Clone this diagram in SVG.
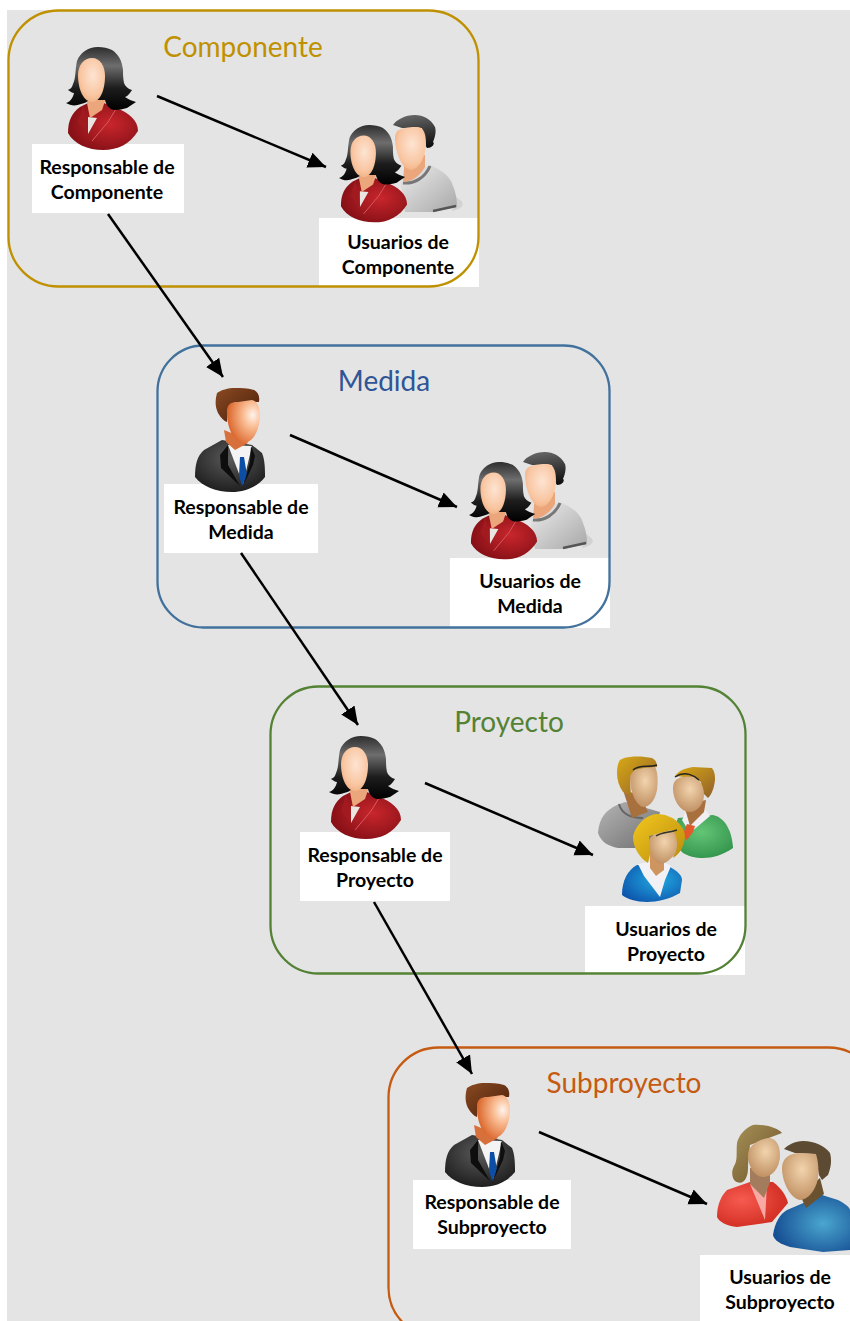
<svg xmlns="http://www.w3.org/2000/svg" xmlns:xlink="http://www.w3.org/1999/xlink" width="850" height="1321" viewBox="0 0 850 1321">
<style>
.box{fill:none;stroke-width:2.3}
.lab{fill:#fff}
.t{font-family:"Lato","Open Sans",sans-serif;font-weight:700;font-size:19.500px;fill:#000;text-anchor:middle;transform:translateY(1px)}
.h{font-family:"Lato","Open Sans",sans-serif;font-size:28px;text-anchor:middle;transform:translateY(1px)}
.c{fill:none;stroke:#000;stroke-width:2.5;marker-end:url(#arr)}
</style>
<defs>
<marker id="arr" markerUnits="userSpaceOnUse" markerWidth="22" markerHeight="20" refX="18" refY="9" orient="auto"><path d="M0,1L18,9L0,17Z" fill="#000"/></marker>
<radialGradient id="face" cx=".55" cy=".4" r=".7"><stop offset="0" stop-color="#fde4d2"/><stop offset=".65" stop-color="#f9c6a2"/><stop offset="1" stop-color="#eea878"/></radialGradient>
<radialGradient id="faceM" cx=".78" cy=".35" r=".75"><stop offset="0" stop-color="#fff3ec"/><stop offset=".4" stop-color="#f9ba90"/><stop offset="1" stop-color="#dc6a30"/></radialGradient>
<radialGradient id="faceT" cx=".55" cy=".35" r=".7"><stop offset="0" stop-color="#f2d4ae"/><stop offset="1" stop-color="#bd8c5e"/></radialGradient>
<linearGradient id="hairK" x1=".5" y1="0" x2=".5" y2="1"><stop offset="0" stop-color="#2e2e2e"/><stop offset=".3" stop-color="#6e6e6e"/><stop offset=".65" stop-color="#1d1d1d"/><stop offset="1" stop-color="#000"/></linearGradient>
<linearGradient id="hairD" x1=".4" y1="0" x2=".6" y2="1"><stop offset="0" stop-color="#666"/><stop offset="1" stop-color="#0f0f0f"/></linearGradient>
<radialGradient id="red" cx=".6" cy=".45" r=".7"><stop offset="0" stop-color="#c8262c"/><stop offset="1" stop-color="#7c0d13"/></radialGradient>
<radialGradient id="suit" cx=".5" cy=".35" r=".7"><stop offset="0" stop-color="#5a5a5a"/><stop offset="1" stop-color="#1b1b1b"/></radialGradient>
<linearGradient id="brown" x1="0" y1="0" x2="1" y2="1"><stop offset="0" stop-color="#8a4a22"/><stop offset="1" stop-color="#4a1e0a"/></linearGradient>
<linearGradient id="tee" x1="0" y1="0" x2="1" y2="1"><stop offset="0" stop-color="#ededed"/><stop offset="1" stop-color="#a8a8a8"/></linearGradient>
<linearGradient id="blond" x1="0" y1="0" x2="1" y2="1"><stop offset="0" stop-color="#d9a915"/><stop offset="1" stop-color="#8f5f2a"/></linearGradient>
<linearGradient id="gold" x1="0" y1="0" x2="1" y2="1"><stop offset="0" stop-color="#f2c81e"/><stop offset="1" stop-color="#b98a0c"/></linearGradient>
<linearGradient id="greyT" x1="0" y1="0" x2="1" y2="1"><stop offset="0" stop-color="#b5b5b5"/><stop offset="1" stop-color="#6f6f6f"/></linearGradient>
<radialGradient id="green" cx=".5" cy=".4" r=".7"><stop offset="0" stop-color="#63c576"/><stop offset="1" stop-color="#2e8f48"/></radialGradient>
<radialGradient id="blue" cx=".6" cy=".4" r=".7"><stop offset="0" stop-color="#22a9e0"/><stop offset="1" stop-color="#0d55ad"/></radialGradient>
<radialGradient id="blue2" cx=".65" cy=".5" r=".65"><stop offset="0" stop-color="#4aa6cf"/><stop offset="1" stop-color="#164f94"/></radialGradient>
<radialGradient id="coral" cx=".35" cy=".4" r=".7"><stop offset="0" stop-color="#f65a50"/><stop offset="1" stop-color="#cf2a1e"/></radialGradient>
<linearGradient id="olive" x1="0" y1="0" x2="1" y2="1"><stop offset="0" stop-color="#a89058"/><stop offset="1" stop-color="#6a5428"/></linearGradient>
<g id="woman">
<path d="M68,133C68,120 72,113 80,107L88,103L104,103L116,108C128,112 138,120 138,131C130,144 118,150 103,150C88,150 74,144 68,133Z" fill="url(#red)"/>
<path d="M88,117L97,118L88,134Z" fill="#e9e6e2"/>
<path d="M83,106L87,118L88,134L92,140L78,122Z" fill="#a01a20"/>
<path d="M116,109L108,122L92,141" fill="none" stroke="#d85a5e" stroke-width="1"/>
<path d="M86,98L106,98L102,110L90,118Z" fill="#eba77b"/>
<path d="M98,47C88,47 80,53 77,61C75,70 76,78 73,84C72,88 70,89 68,90C71,92 72,93 74,93C73,98 70,102 66,103C71,106 76,106 81,104C85,103 87,102 89,100L105,100C106,105 109,109 114,110C119,110 123,109 127,108C130,106 133,104 136,102C132,101 128,99 125,97C128,96 130,93 132,90C128,89 125,86 124,83C123,78 123,74 123,70C122,60 118,54 112,50C108,48 103,47 98,47Z" fill="url(#hairK)"/>
<path d="M78,75C78,65 84,58 92,58C100,58 105,66 105,76C105,90 100,102 92,102C84,102 78,90 78,75Z" fill="url(#face)"/>
</g>
<g id="suitman">
<path d="M195,477C195,465 197,456 204,450L222,440L252,445L262,453C265,460 265,470 265,477C258,486 246,492 232,492C216,492 202,486 195,477Z" fill="url(#suit)"/>
<path d="M228,445L252,446L243,484Z" fill="#f4f4f4"/>
<path d="M240,457L244,457L247,475L242,486L239,475Z" fill="#0c4da5"/>
<path d="M228,445L220,455L221,468L240,486L228,465Z" fill="#0e0e0e"/>
<path d="M251,446L255,456L253,465L244,484L250,462Z" fill="#0e0e0e"/>
<path d="M224,430L244,438L248,443L235,450L226,442Z" fill="#d8703c"/>
<path d="M235,388C228,388 221,390 217,393C215,400 215,407 218,413C221,418 224,421 227,422L228,408L235,402L259,402C260,396 258,392 254,390C247,388 241,388 235,388Z" fill="url(#brown)"/>
<path d="M227,412C227,404 231,402 238,402L252,400C257,401 260,406 260,416C259,433 252,443 243,443C233,441 227,428 227,412Z" fill="url(#faceM)"/>
</g>
<g id="users">
<path d="M452,211C462,209 466,204 460,200L455,196Z" fill="#d2d2d2"/>
<path d="M400,180L430,165C444,171 451,178 453,186C456,193 457,200 457,207L433,212L405,212Z" fill="url(#tee)"/>
<path d="M403,183C414,184 425,178 430,166" fill="none" stroke="#777" stroke-width="3"/>
<path d="M433,211L456,206" fill="none" stroke="#555" stroke-width="2.500"/>
<path d="M405,155h20v12q-8,14-22,15Z" fill="#eba77b"/>
<path d="M415,115C405,115 396,120 393,125L402,128L422,128L424,143L427,148C433,148 435,143 433,142C436,135 436,130 435,127C431,119 423,115 415,115Z" fill="url(#hairD)"/>
<path d="M395,137C395,129 404,127 417,127C424,127 426,134 426,145C425,158 419,170 410,170C400,167 395,150 395,137Z" fill="url(#face)"/>
<use xlink:href="#woman" href="#woman" transform="translate(340,125) scale(.945) translate(-67,-47)"/>
</g>
</defs>

<rect x="7" y="10" width="843" height="1311" fill="#e4e4e4"/>

<g id="node-componente">
<rect class="lab" x="32" y="144" width="152" height="69"/>
<rect class="lab" x="319" y="218" width="160" height="69"/>
<rect class="box" x="8.500" y="10.500" width="470" height="276" rx="50" stroke="#bf9000"/>
<text class="h" x="243" y="56" fill="#bf9000">Componente</text>
<use id="resp-componente" xlink:href="#woman" href="#woman"/>
<use id="usu-componente" xlink:href="#users" href="#users"/>
<text class="t" x="107" y="173">Responsable de</text><text class="t" x="107" y="198">Componente</text>
<text class="t" x="398" y="248">Usuarios de</text><text class="t" x="398" y="273">Componente</text>
</g>

<g id="node-medida">
<rect class="lab" x="164" y="484" width="154" height="69"/>
<rect class="lab" x="450" y="558" width="160" height="70"/>
<rect class="box" x="157.500" y="345.500" width="452" height="282" rx="46" stroke="#41719c"/>
<text class="h" x="384" y="390" fill="#2f5597">Medida</text>
<use id="resp-medida" xlink:href="#suitman" href="#suitman"/>
<use id="usu-medida" xlink:href="#users" href="#users" transform="translate(130,337)"/>
<text class="t" x="241" y="513">Responsable de</text><text class="t" x="241" y="538">Medida</text>
<text class="t" x="530" y="587">Usuarios de</text><text class="t" x="530" y="612">Medida</text>
</g>

<g id="node-proyecto">
<rect class="lab" x="300" y="832" width="150" height="69"/>
<rect class="lab" x="585" y="906" width="160" height="69"/>
<rect class="box" x="270.500" y="686.500" width="475" height="287" rx="48" stroke="#548235"/>
<text class="h" x="509" y="731" fill="#548235">Proyecto</text>
<use id="resp-proyecto" xlink:href="#woman" href="#woman" transform="translate(263,689)"/>
<g id="usu-proyecto">
<path d="M598,833C599,818 606,810 617,805L625,802L660,812L650,848L618,848C608,846 601,842 598,833Z" fill="url(#greyT)"/>
<path d="M619,804C622,815 632,818 643,818" fill="none" stroke="#666" stroke-width="2"/>
<path d="M623,790L640,795L648,812L632,818Z" fill="#a8703c"/>
<path d="M630,757C638,756 646,757 652,758C656,760 657,763 657,767L635,770L630,780L631,797C626,793 624,792 623,792C619,786 617,780 617,773C617,767 618,763 620,760C623,758 627,757 630,757Z" fill="url(#blond)"/>
<path d="M630,778C630,772 636,769 644,768L655,767C658,772 658,782 657,790C655,800 650,807 643,807C635,805 630,790 630,778Z" fill="url(#faceT)"/>
<path d="M633,770C640,764 648,768 657,765" fill="none" stroke="#222" stroke-width="1.500"/>
<path d="M678,818L713,815C726,818 732,832 733,848C723,855 712,858 703,858C695,858 688,856 683,853L670,840Z" fill="url(#green)"/>
<path d="M682,820L690,833L710,816L704,808L686,812Z" fill="#f1eef4"/>
<path d="M687,824L695,826L693,832L687,840L682,836Z" fill="#e2592a"/>
<path d="M684,805L706,800L704,812L690,826Z" fill="#a8703c"/>
<path d="M693,767L712,768C715,772 715,776 715,780C714,788 712,794 708,798L702,792L701,782L694,778L675,776C678,771 685,768 693,767Z" fill="url(#blond)"/>
<path d="M673,788C673,779 680,775 694,777C700,780 704,786 704,795C704,804 697,812 690,812C680,812 673,800 673,788Z" fill="url(#faceT)"/>
<path d="M675,777C685,770 695,776 699,780" fill="none" stroke="#222" stroke-width="1.500"/>
<path d="M622,895C622,880 628,870 637,865L670,867C677,871 682,875 682,880L680,893C670,899 657,902 647,902C636,902 627,899 622,895Z" fill="url(#blue)"/>
<path d="M638,864L644,876L660,897L665,880L671,866L660,860Z" fill="#f2f2f6"/>
<path d="M650,848h14v22l-8,6l-6,-8Z" fill="#cf9560"/>
<path d="M657,814C645,815 635,826 633,837C633,848 640,858 648,863L651,850L649,836L665,832L672,830C677,838 677,846 673,858C680,854 684,846 685,837C685,825 672,814 657,814Z" fill="url(#gold)"/>
<path d="M649,842C649,836 655,833 673,830C678,838 678,848 675,854C670,860 665,864 660,864C654,862 649,852 649,842Z" fill="url(#faceT)"/>
<path d="M656,836C662,832 668,833 677,830" fill="none" stroke="#332" stroke-width="1.500"/>
</g>
<text class="t" x="375" y="861">Responsable de</text><text class="t" x="375" y="886">Proyecto</text>
<text class="t" x="666" y="935">Usuarios de</text><text class="t" x="666" y="960">Proyecto</text>
</g>

<g id="node-subproyecto">
<rect class="lab" x="413" y="1180" width="158" height="69"/>
<rect class="lab" x="700" y="1255" width="150" height="66"/>
<rect class="box" x="388.500" y="1047.500" width="490" height="290" rx="50" stroke="#c55a11"/>
<text class="h" x="624" y="1092" fill="#c55a11">Subproyecto</text>
<use id="resp-subproyecto" xlink:href="#suitman" href="#suitman" transform="translate(250,695)"/>
<g id="usu-subproyecto">
<path d="M717,1217C717,1205 721,1196 727,1190L750,1182L773,1182C781,1188 786,1195 788,1203L772,1222L737,1227C727,1226 719,1222 717,1217Z" fill="url(#coral)"/>
<path d="M750,1184L767,1184L765,1220Z" fill="#f9a9a4"/>
<path d="M750,1168h20v14l-6,16l-14,-14Z" fill="#a37c5e"/>
<path d="M753,1125C745,1128 739,1135 737,1143C736,1152 738,1160 734,1166C731,1172 732,1178 735,1181C739,1184 744,1183 746,1178C748,1174 748,1170 748,1165L750,1145L766,1139L782,1133C778,1128 765,1124 753,1125Z" fill="url(#olive)"/>
<path d="M748,1155C748,1146 757,1140 768,1138C776,1138 780,1145 780,1155C780,1168 772,1177 763,1177C754,1177 748,1166 748,1155Z" fill="url(#faceT)"/>
<path d="M773,1235C775,1222 780,1214 787,1210L822,1195L838,1200C846,1204 850,1208 850,1210L850,1250L823,1252L790,1247C780,1244 774,1240 773,1235Z" fill="url(#blue2)"/>
<path d="M800,1195L820,1178L824,1194L806,1208Z" fill="#6a5230"/>
<path d="M803,1141C795,1141 788,1145 784,1149L795,1153L815,1154L819,1175L822,1180L828,1175C831,1168 832,1160 830,1153C825,1146 815,1141 803,1141Z" fill="#5d4a32"/>
<path d="M782,1168C782,1158 790,1153 800,1153L816,1154C818,1160 819,1170 818,1178C816,1190 808,1200 800,1200C790,1198 782,1182 782,1168Z" fill="url(#faceT)"/>
</g>
<text class="t" x="492" y="1208">Responsable de</text><text class="t" x="492" y="1233">Subproyecto</text>
<text class="t" x="780" y="1283">Usuarios de</text><text class="t" x="780" y="1308">Subproyecto</text>
</g>

<g id="connectors">
<line class="c" x1="157" y1="96" x2="326" y2="167"/>
<line class="c" x1="108" y1="214" x2="223" y2="377"/>
<line class="c" x1="290" y1="435" x2="457" y2="507"/>
<line class="c" x1="241" y1="553" x2="358" y2="725"/>
<line class="c" x1="425" y1="783" x2="593" y2="855"/>
<line class="c" x1="374" y1="902" x2="472" y2="1074"/>
<line class="c" x1="539" y1="1132" x2="707" y2="1204"/>
</g>
</svg>
